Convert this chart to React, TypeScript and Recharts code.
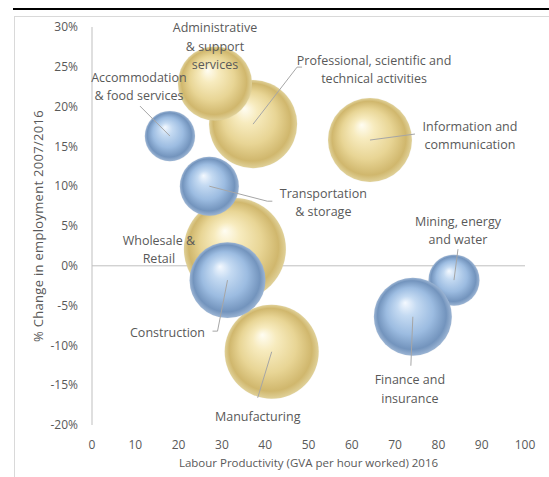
import React from 'react';
import { ScatterChart, Scatter, XAxis, YAxis, ZAxis, ReferenceLine, Label } from 'recharts';

// ---- Data ----
const yellowSectors = [
  'Professional, scientific and technical activities',
  'Wholesale & Retail',
  'Manufacturing',
  'Information and communication',
  'Administrative & support services',
];
const yellowProductivity = [37.2, 33.0, 41.5, 64.2, 28.4];
const yellowEmploymentChange = [17.8, 2.1, -10.8, 15.8, 22.9];
const yellowBubbleSize = [194, 260, 221, 176, 137];

const blueSectors = [
  'Mining, energy and water',
  'Accommodation & food services',
  'Transportation & storage',
  'Construction',
  'Finance and insurance',
];
const blueProductivity = [83.6, 18.0, 27.1, 31.3, 74.1];
const blueEmploymentChange = [-1.8, 16.3, 10.0, -1.8, -6.4];
const blueBubbleSize = [65, 63, 87, 144, 152];

const xTicks = [0, 10, 20, 30, 40, 50, 60, 70, 80, 90, 100];
const yTicks = [-20, -15, -10, -5, 0, 5, 10, 15, 20, 25, 30];

const xTitle = 'Labour Productivity (GVA per hour worked) 2016';
const yTitle = '% Change in employment 2007/2016';

// label text lines + offsets relative to bubble centre (styling/layout)
const labelLayout: Record<string, { lines: string[]; dx: number; dy: number; leader?: number[][] }> = {
  'Administrative & support services': { lines: ['Administrative', '& support', 'services'], dx: 0, dy: -56 },
  'Professional, scientific and technical activities': {
    lines: ['Professional, scientific and', 'technical activities'], dx: 121, dy: -64,
    leader: [[44, -57], [49, -57]],
  },
  'Accommodation & food services': {
    lines: ['Accommodation', '& food services'], dx: -31, dy: -59,
    leader: [[-30, -30]],
  },
  'Information and communication': {
    lines: ['Information and', 'communication'], dx: 100, dy: -14,
    leader: [[45, -6]],
  },
  'Transportation & storage': {
    lines: ['Transportation', '& storage'], dx: 114, dy: 7,
    leader: [[58, 15], [63, 15]],
  },
  'Wholesale & Retail': { lines: ['Wholesale &', 'Retail'], dx: -76, dy: -9 },
  'Construction': { lines: ['Construction'], dx: -60, dy: 52, leader: [[-10, 51], [-15, 51]] },
  'Manufacturing': { lines: ['Manufacturing'], dx: -14, dy: 65, leader: [[-14, 46]] },
  'Mining, energy and water': { lines: ['Mining, energy', 'and water'], dx: 4, dy: -59, leader: [[4, -31]] },
  'Finance and insurance': { lines: ['Finance and', 'insurance'], dx: -3, dy: 63, leader: [[-2, 49]] },
};

const build = (names: string[], xs: number[], ys: number[], zs: number[]) =>
  names.map((name, i) => ({ name, x: xs[i], y: ys[i], z: zs[i] }));

const yellowData = build(yellowSectors, yellowProductivity, yellowEmploymentChange, yellowBubbleSize);
const blueData = build(blueSectors, blueProductivity, blueEmploymentChange, blueBubbleSize);
const allData = [...yellowData, ...blueData];

const TEXT = '#595959';
const FONT = '"Open Sans", sans-serif';

const Bubble = (props: any) => {
  const { cx, cy, size, width, fill } = props;
  let r = size != null ? Math.sqrt(size / Math.PI) : width / 2;
  if (!isFinite(r)) r = 10;
  return (
    <g>
      <circle cx={cx} cy={cy} r={r + 1} fill="url(#halo)" opacity={0.35} />
      <circle cx={cx} cy={cy} r={r} fill={fill} />
    </g>
  );
};

const BubbleLabel = (props: any) => {
  const { cx, cy, payload } = props;
  const cfg = labelLayout[payload?.name];
  if (!cfg) return <g />;
  const lineH = 18.5;
  let path = '';
  if (cfg.leader) {
    path = `M${cx},${cy}` + cfg.leader.map((p) => ` L${cx + p[0]},${cy + p[1]}`).join('');
  }
  return (
    <g>
      {path && <path d={path} stroke="#A6A6A6" strokeWidth={1} fill="none" />}
      {cfg.lines.map((ln, i) => (
        <text
          key={i}
          x={cx + cfg.dx}
          y={cy + cfg.dy + i * lineH}
          textAnchor="middle"
          dominantBaseline="central"
          fill={TEXT}
          fontSize={12.5}
          fontFamily={FONT}
        >
          {ln}
        </text>
      ))}
    </g>
  );
};

const YTitle = (props: any) => {
  const { viewBox } = props;
  const cx = 38;
  const cy = viewBox.y + viewBox.height / 2;
  return (
    <text
      x={cx}
      y={cy}
      transform={`rotate(-90 ${cx} ${cy})`}
      textAnchor="middle"
      dominantBaseline="central"
      fill={TEXT}
      fontSize={13}
      letterSpacing={0.3}
      fontFamily={FONT}
    >
      {yTitle}
    </text>
  );
};

export default function App() {
  return (
    <div
      style={{
        position: 'absolute',
        left: 0,
        top: 0,
        width: 549,
        height: 477,
        overflow: 'hidden',
        background: '#fff',
        fontFamily: FONT,
      }}
    >
      <svg width={0} height={0} style={{ position: 'absolute' }}>
        <defs>
          <radialGradient id="gYellow" cx="50%" cy="50%" r="50%" fx="40%" fy="32%">
            <stop offset="0%" stopColor="#FFFDF2" />
            <stop offset="25%" stopColor="#F7EBBE" />
            <stop offset="60%" stopColor="#E8D595" />
            <stop offset="88%" stopColor="#D0B76D" />
            <stop offset="100%" stopColor="#E0D199" />
          </radialGradient>
          <radialGradient id="gBlue" cx="50%" cy="50%" r="50%" fx="40%" fy="32%">
            <stop offset="0%" stopColor="#F4F9FF" />
            <stop offset="25%" stopColor="#C4DAF2" />
            <stop offset="60%" stopColor="#9CBCE1" />
            <stop offset="88%" stopColor="#7394BD" />
            <stop offset="100%" stopColor="#9CB5D4" />
          </radialGradient>
          <radialGradient id="halo" cx="50%" cy="50%" r="50%">
            <stop offset="90%" stopColor="#999" stopOpacity={0.6} />
            <stop offset="100%" stopColor="#999" stopOpacity={0} />
          </radialGradient>
        </defs>
      </svg>
      <div style={{ position: 'absolute', left: 13, top: 8, width: 540, height: 2, background: '#000' }} />
      <div
        style={{
          position: 'absolute',
          left: 14,
          top: 16,
          width: 600,
          height: 600,
          border: '1px solid #D9D9D9',
        }}
      />
      <div style={{ position: 'absolute', left: 0, top: 0 }}>
        <ScatterChart width={549} height={477} margin={{ top: 27, right: 24, bottom: 22, left: 32 }}>
          <XAxis
            type="number"
            dataKey="x"
            domain={[0, 100]}
            ticks={xTicks}
            interval={0}
            axisLine={false}
            tickLine={false}
            height={30}
            tickMargin={9}
            tick={{ fill: TEXT, fontSize: 12, fontFamily: FONT }}
          >
            <Label
              value={xTitle}
              position="bottom"
              offset={4}
              fill={TEXT}
              fontSize={11.5}
              fontFamily={FONT}
            />
          </XAxis>
          <YAxis
            type="number"
            dataKey="y"
            domain={[-20, 30]}
            ticks={yTicks}
            interval={0}
            tickFormatter={(v: number) => `${v}%`}
            axisLine={{ stroke: '#BFBFBF' }}
            tickLine={false}
            width={60}
            tickMargin={8}
            tick={{ fill: TEXT, fontSize: 12, fontFamily: FONT }}
          >
            <Label content={YTitle} />
          </YAxis>
          <ZAxis type="number" dataKey="z" domain={[0, 260]} range={[0, Math.PI * 51 * 51]} />
          <ReferenceLine y={0} stroke="#BFBFBF" strokeWidth={1} />
          <Scatter data={yellowData} fill="url(#gYellow)" shape={<Bubble />} isAnimationActive={false} />
          <Scatter data={blueData} fill="url(#gBlue)" shape={<Bubble />} isAnimationActive={false} />
          <Scatter data={allData} fill="none" shape={<BubbleLabel />} isAnimationActive={false} />
        </ScatterChart>
      </div>
    </div>
  );
}
